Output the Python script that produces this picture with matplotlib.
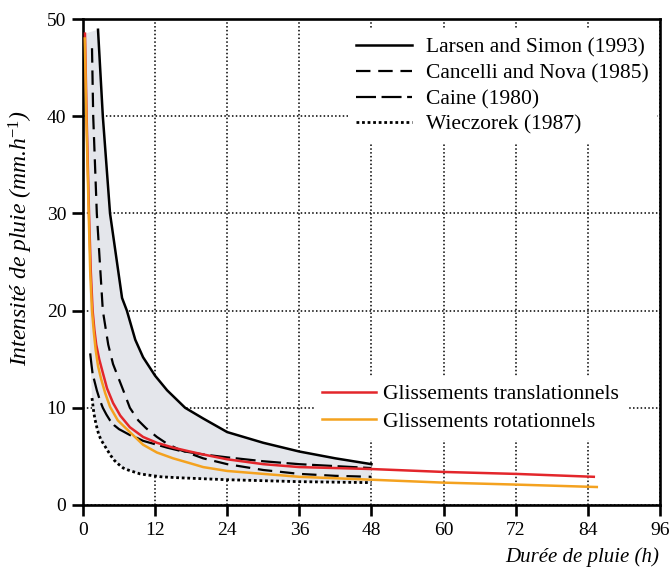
import matplotlib
matplotlib.use("Agg")
import matplotlib.pyplot as plt

plt.rcParams['font.family'] = ['Liberation Serif', 'DejaVu Serif']
plt.rcParams['mathtext.fontset'] = 'custom'
plt.rcParams['mathtext.rm'] = 'Liberation Serif'
plt.rcParams['mathtext.it'] = 'Liberation Serif:italic'
plt.rcParams['mathtext.default'] = 'it'

# values (duration h, intensity mm/h)
larsen_x = [2.5, 3.3, 4.5, 6.5, 7.3, 8.7, 10, 12, 14, 17, 20, 24, 30, 36, 42, 48]
larsen_y = [48.9, 40, 30, 21.3, 20, 17, 15.2, 13.3, 11.8, 10, 8.9, 7.5, 6.4, 5.5, 4.8, 4.2]

cancelli_x = [1.5, 1.7, 2.3, 3.3, 4.2, 5.0, 6.7, 7.8, 9.2, 10.5, 12.3, 14, 16, 20, 24, 30, 36, 42, 48]
cancelli_y = [47, 40, 30, 20, 16.5, 14.5, 11.8, 10.0, 8.7, 7.9, 7.0, 6.3, 5.7, 4.8, 4.2, 3.6, 3.2, 3.0, 2.9]

caine_x = [1.2, 1.4, 1.6, 2.3, 2.8, 3.3, 3.9, 4.5, 5.2, 6, 7.8, 9, 10, 12.3, 14, 16, 20, 24, 30, 36, 42, 48]
caine_y = [15.6, 14.5, 13.5, 11.8, 10.8, 10.0, 9.3, 8.7, 8.2, 7.8, 7.2, 6.9, 6.6, 6.2, 5.9, 5.6, 5.2, 4.9, 4.5, 4.2, 4.0, 3.8]

wiec_x = [1.5, 1.8, 2.0, 2.3, 2.6, 3.0, 3.5, 4.0, 4.6, 5.2, 5.9, 6.7, 7.5, 8.5, 9.5, 10.6,
          13, 16, 20, 24, 30, 36, 42, 48]
wiec_y = [11.0, 9.5, 8.8, 8.0, 7.3, 6.7, 6.2, 5.7, 5.1, 4.6, 4.2, 3.8, 3.6, 3.4, 3.2, 3.1,
          2.9, 2.8, 2.7, 2.6, 2.5, 2.4, 2.35, 2.3]

trans_x = [0.33, 0.6, 1.0, 1.3, 1.6, 1.9, 2.2, 2.7, 3.3, 4.0, 5.0, 6.2, 7.8, 10, 12.3, 15,
           17.8, 20, 24, 30, 36, 42, 48, 60, 72, 85]
trans_y = [48.5, 40, 30, 24, 20, 18, 16.5, 15, 13.6, 12, 10.5, 9.2, 8.0, 7.0, 6.4, 5.9,
           5.5, 5.2, 4.7, 4.2, 3.9, 3.8, 3.7, 3.4, 3.2, 2.9]

rot_x = [0.3, 0.55, 0.95, 1.2, 1.5, 1.8, 2.1, 2.5, 3.0, 3.7, 4.5, 5.8, 7.8, 10, 12.3, 15,
         17.8, 20, 24, 30, 36, 42, 48, 60, 72, 85.5]
rot_y = [48, 40, 30, 24, 20, 17.8, 16.0, 14.3, 13.0, 11.5, 10.1, 8.7, 7.5, 6.2, 5.4, 4.8,
         4.3, 3.9, 3.5, 3.2, 2.9, 2.75, 2.6, 2.3, 2.1, 1.85]

xticks = [0, 12, 24, 36, 48, 60, 72, 84, 96]
yticks = [0, 10, 20, 30, 40, 50]

fig = plt.figure(figsize=(6.72, 5.69), dpi=100)
ax = fig.add_axes([0.1235, 0.1125, 0.8585, 0.854])

# grey envelope between the upper and lower thresholds
env_x = larsen_x + wiec_x[::-1] + [caine_x[0]] + trans_x[:3][::-1]
env_y = larsen_y + wiec_y[::-1] + [caine_y[0]] + trans_y[:3][::-1]
ax.fill(env_x, env_y, color='#e4e6eb', lw=0, zorder=1)

l1, = ax.plot(larsen_x, larsen_y, color='black', lw=1.8, zorder=3)
l2, = ax.plot(cancelli_x, cancelli_y, color='black', lw=1.6, ls=(0, (6.5, 3.5)), zorder=3)
l3, = ax.plot(caine_x, caine_y, color='black', lw=1.6, ls=(0, (9, 2.5)), zorder=3)
l4, = ax.plot(wiec_x, wiec_y, color='black', lw=2.0, ls=(0, (1, 1)), zorder=3)
r1, = ax.plot(trans_x, trans_y, color='#e3262b', lw=1.8, zorder=4)
r2, = ax.plot(rot_x, rot_y, color='#f4a21f', lw=1.8, zorder=4)

ax.set_xlim(0, 96)
ax.set_ylim(0, 50)
ax.set_xticks(xticks)
ax.set_yticks(yticks)
ax.grid(True, color='black', ls=(0, (1, 1.5)), lw=1.1)
ax.set_axisbelow(True)
for s in ax.spines.values():
    s.set_linewidth(1.9)
ax.tick_params(direction='out', length=8, width=1.9, labelsize=14, pad=4)

ax.set_xlabel('Durée de pluie (h)', fontsize=15, style='italic', loc='right')
ax.xaxis.set_label_coords(0.998, -0.086)
ax.set_ylabel(r'Intensité de pluie (mm.h$^{-1}$)', fontsize=17, style='italic')
ax.yaxis.set_label_coords(-0.084, 0.55)

leg1 = ax.legend([l1, l2, l3, l4],
                 ['Larsen and Simon (1993)', 'Cancelli and Nova (1985)',
                  'Caine (1980)', 'Wieczorek (1987)'],
                 loc='upper left', bbox_to_anchor=(0.459, 0.979), borderaxespad=0,
                 fontsize=15.5, handlelength=2.56, handletextpad=0.65,
                 labelspacing=0.26, borderpad=0.4, fancybox=False,
                 framealpha=1, edgecolor='white')
leg1.get_frame().set_linewidth(0)
ax.add_artist(leg1)
leg2 = ax.legend([r1, r2], ['Glissements translationnels', 'Glissements rotationnels'],
                 loc='upper left', bbox_to_anchor=(0.400, 0.266), borderaxespad=0,
                 fontsize=15.5, handlelength=2.47, handletextpad=0.33,
                 labelspacing=0.33, borderpad=0.4, fancybox=False,
                 framealpha=1, edgecolor='white')
leg2.get_frame().set_linewidth(0)

fig.savefig('out.png', dpi=100)
